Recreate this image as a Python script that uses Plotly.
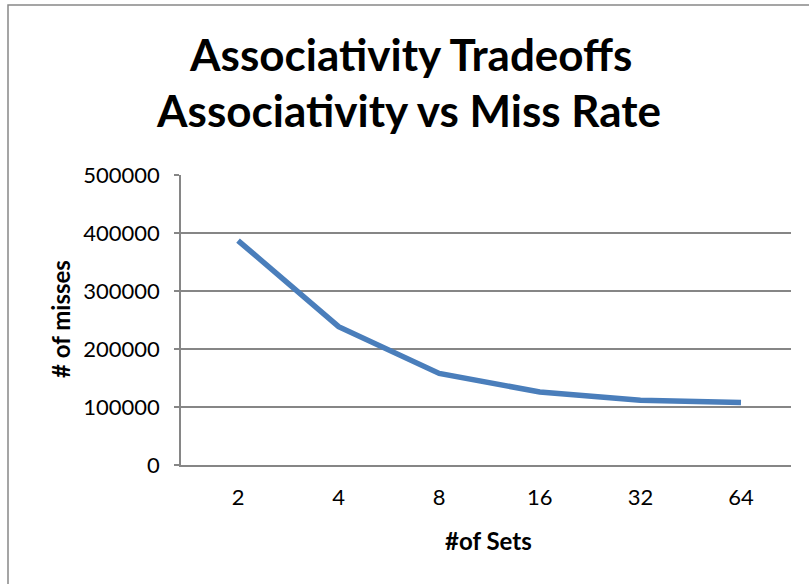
import plotly.graph_objects as go

sets = ["2", "4", "8", "16", "32", "64"]
misses = [387000, 238500, 157800, 126000, 111600, 107600]
y_ticks = [0, 100000, 200000, 300000, 400000, 500000]

W, H = 809, 584
L, R, T, B = 181, 791, 175, 465

def px(x):
    return (x - L) / (R - L)

def py(y):
    return (B - y) / (B - T)

FONT = "Lato"

fig = go.Figure()
fig.add_trace(go.Scatter(
    x=sets, y=misses, mode="lines",
    line=dict(color="#4A7EBB", width=5.5),
    showlegend=False, hoverinfo="skip",
))

fig.update_layout(
    width=W, height=H,
    margin=dict(l=L, r=W - R, t=T, b=H - B, pad=0),
    paper_bgcolor="white", plot_bgcolor="white",
    font=dict(family=FONT, color="black"),
    xaxis=dict(
        type="category", range=[-0.567, 5.497],
        showgrid=False, zeroline=False,
        showline=True, linecolor="#868686", linewidth=1.5,
        ticks="", tickfont=dict(family=FONT, size=22, color="black"),
        ticklabelstandoff=12,
    ),
    yaxis=dict(
        range=[0, 500000], tickvals=y_ticks,
        ticktext=[str(v) for v in y_ticks],
        showgrid=True, gridcolor="#868686", gridwidth=1.5,
        zeroline=False,
        showline=True, linecolor="#868686", linewidth=1.5,
        ticks="outside", ticklen=5, tickcolor="#868686", tickwidth=1.5,
        tickfont=dict(family=FONT, size=22, color="black"),
        ticklabelstandoff=10,
    ),
    shapes=[dict(
        type="rect", xref="paper", yref="paper",
        x0=px(8), x1=px(830), y0=py(600), y1=py(5),
        line=dict(color="#888888", width=1.5), fillcolor="rgba(0,0,0,0)",
        layer="below",
    )],
    annotations=[
        dict(text="<b>Associativity Tradeoffs</b>", xref="paper", yref="paper",
             x=px(410), y=py(54), xanchor="center", yanchor="middle",
             showarrow=False, font=dict(family=FONT, size=44, color="black")),
        dict(text="<b>Associativity vs Miss Rate</b>", xref="paper", yref="paper",
             x=px(408), y=py(110), xanchor="center", yanchor="middle",
             showarrow=False, font=dict(family=FONT, size=44, color="black")),
        dict(text="<b>#of Sets</b>", xref="paper", yref="paper",
             x=px(488), y=py(540), xanchor="center", yanchor="middle",
             showarrow=False, font=dict(family=FONT, size=24, color="black")),
        dict(text="<b># of misses</b>", xref="paper", yref="paper",
             x=px(60), y=py(319), xanchor="center", yanchor="middle",
             textangle=-90,
             showarrow=False, font=dict(family=FONT, size=24, color="black")),
    ],
)

fig.write_html("out.html", config={"displayModeBar": False},
               post_script="document.body.style.margin='0';")
